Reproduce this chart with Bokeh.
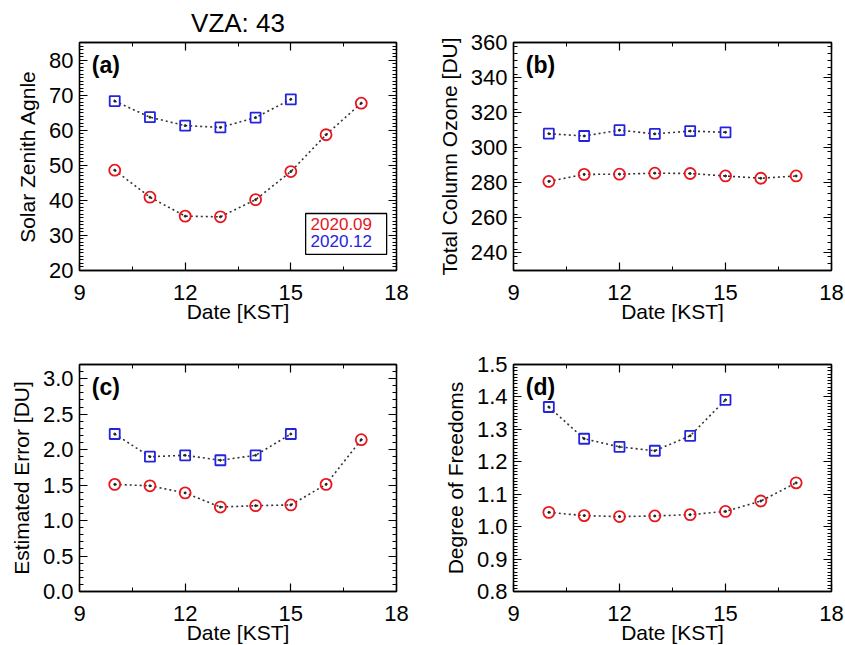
from bokeh.plotting import figure
from bokeh.layouts import column, row
from bokeh.models import (FixedTicker, LinearAxis, Range1d, Label, BoxAnnotation,
                          PrintfTickFormatter, CustomJSTickFormatter)
from bokeh.embed import file_html
from bokeh.resources import INLINE
import numpy as np

FONT = "Liberation Sans"
RED = "#e8161e"
BLUE = "#2424e0"

# ---------------- data ----------------
hours_sep = [10, 11, 12, 13, 14, 15, 16, 17]
hours_dec = [10, 11, 12, 13, 14, 15]

sza_sep = [48.6, 40.9, 35.5, 35.3, 40.2, 48.2, 58.7, 67.7]
sza_dec = [68.3, 63.7, 61.3, 60.8, 63.6, 68.8]

toz_sep = [280.8, 284.8, 284.9, 285.5, 285.3, 283.9, 282.6, 283.9]
toz_dec = [308.0, 306.7, 310.0, 307.9, 309.5, 308.8]

err_sep = [1.51, 1.49, 1.39, 1.19, 1.21, 1.22, 1.51, 2.14]
err_dec = [2.22, 1.90, 1.92, 1.85, 1.92, 2.22]

dof_sep = [1.044, 1.034, 1.031, 1.033, 1.037, 1.047, 1.079, 1.135]
dof_dec = [1.369, 1.271, 1.246, 1.234, 1.280, 1.391]

x_major = [9, 12, 15, 18]
x_minor = [10.5, 13.5, 16.5]

legend_labels = ["2020.09", "2020.12"]


def blank_formatter():
    return CustomJSTickFormatter(code="return '';")


def make_panel(tag, ylabel, yr, ymajor, ystep, yfmt, y_sep, y_dec,
               left, right, top, bottom, fw, fh, title=None):
    p = figure(frame_width=fw, frame_height=fh,
               x_range=Range1d(9, 18), y_range=Range1d(*yr),
               output_backend="svg", toolbar_location=None,
               min_border_left=left, min_border_right=right,
               min_border_top=top, min_border_bottom=bottom,
               background_fill_color="white", border_fill_color="white")
    p.grid.visible = False
    p.outline_line_color = "black"
    p.outline_line_width = 1.3

    yminor = list(np.round(np.arange(yr[0], yr[1] + ystep / 2, ystep), 6))
    xt = FixedTicker(ticks=x_major, minor_ticks=x_minor)
    yt = FixedTicker(ticks=ymajor, minor_ticks=yminor)

    # bottom axis
    xa = p.xaxis[0]
    xa.ticker = xt
    xa.formatter = PrintfTickFormatter(format="%d")
    xa.axis_label = "Date [KST]"
    # left axis
    ya = p.yaxis[0]
    ya.ticker = yt
    ya.formatter = PrintfTickFormatter(format=yfmt)
    ya.axis_label = ylabel

    top_ax = LinearAxis(ticker=xt, formatter=blank_formatter())
    right_ax = LinearAxis(ticker=yt, formatter=blank_formatter())
    p.add_layout(top_ax, "above")
    p.add_layout(right_ax, "right")

    for ax in [xa, ya, top_ax, right_ax]:
        ax.axis_line_color = "black"
        ax.axis_line_width = 1.3
        ax.major_tick_in = 8
        ax.major_tick_out = 0
        ax.minor_tick_in = 4
        ax.minor_tick_out = 0
        ax.major_tick_line_color = "black"
        ax.minor_tick_line_color = "black"
        ax.major_tick_line_width = 1.2
        ax.minor_tick_line_width = 1
        ax.major_label_text_font = FONT
        ax.major_label_text_color = "black"
        ax.axis_label_text_font = FONT
        ax.axis_label_text_font_style = "normal"
        ax.axis_label_text_color = "black"
    for ax in [xa, ya]:
        ax.major_label_text_font_size = "22px"
        ax.axis_label_text_font_size = "21px"
    for ax in [top_ax, right_ax]:
        ax.major_label_text_font_size = "1px"
        ax.major_label_standoff = 0
    xa.major_label_standoff = 14
    xa.axis_label_standoff = -3
    ya.major_label_standoff = 6
    ya.axis_label_standoff = 7

    # series
    p.line(hours_sep, y_sep, line_color="#333333", line_width=1.6, line_dash="2 3")
    p.line(hours_dec, y_dec, line_color="#333333", line_width=1.6, line_dash="2 3")
    p.scatter(hours_sep, y_sep, marker="circle", size=11, fill_color=None,
              line_color=RED, line_width=1.8)
    p.scatter(hours_dec, y_dec, marker="square", size=10, fill_color=None,
              line_color=BLUE, line_width=1.8)
    p.scatter(hours_sep, y_sep, marker="circle", size=2, color="#222222")
    p.scatter(hours_dec, y_dec, marker="circle", size=2, color="#222222")

    # panel tag
    ylen = yr[1] - yr[0]
    p.add_layout(Label(x=9.35, y=yr[1] - ylen * 22.0 / fh, text=tag,
                       text_font=FONT, text_font_size="23px", text_font_style="bold",
                       text_baseline="middle", text_align="left", text_color="black"))

    if title:
        p.title.text = title
        p.title.align = "center"
        p.title.text_font = FONT
        p.title.text_font_size = "26px"
        p.title.text_font_style = "normal"
        p.title.text_color = "black"
    return p


pa = make_panel("(a)", "Solar Zenith Agnle", (20, 85), list(range(20, 81, 10)), 1, "%d",
                sza_sep, sza_dec, 79, 26, 40, 54, 317, 228, title="VZA: 43")
pb = make_panel("(b)", "Total Column Ozone [DU]", (230, 360), list(range(240, 361, 20)), 4, "%d",
                toz_sep, toz_dec, 91, 14, 39, 55, 318, 228)
pc = make_panel("(c)", "Estimated Error [DU]", (0, 3.2), [0, 0.5, 1.0, 1.5, 2.0, 2.5, 3.0], 0.1, "%.1f",
                err_sep, err_dec, 79, 26, 39, 57, 317, 227)
pd = make_panel("(d)", "Degree of Freedoms", (0.8, 1.5), [0.8, 0.9, 1.0, 1.1, 1.2, 1.3, 1.4, 1.5], 0.01, "%.1f",
                dof_sep, dof_dec, 91, 14, 39, 57, 318, 227)

# legend box in panel (a)
pa.add_layout(BoxAnnotation(left=15.42, right=17.72, bottom=24.6, top=36.25,
                            fill_alpha=0, line_color="black", line_alpha=1.0, line_width=1.3))
pa.add_layout(Label(x=15.56, y=33.2, text=legend_labels[0], text_color=RED,
                    text_font=FONT, text_font_size="17px", text_baseline="middle"))
pa.add_layout(Label(x=15.56, y=28.5, text=legend_labels[1], text_color=BLUE,
                    text_font=FONT, text_font_size="17px", text_baseline="middle"))

layout = column(row(pa, pb), row(pc, pd))
open("out.html", "w").write(file_html(layout, INLINE))
